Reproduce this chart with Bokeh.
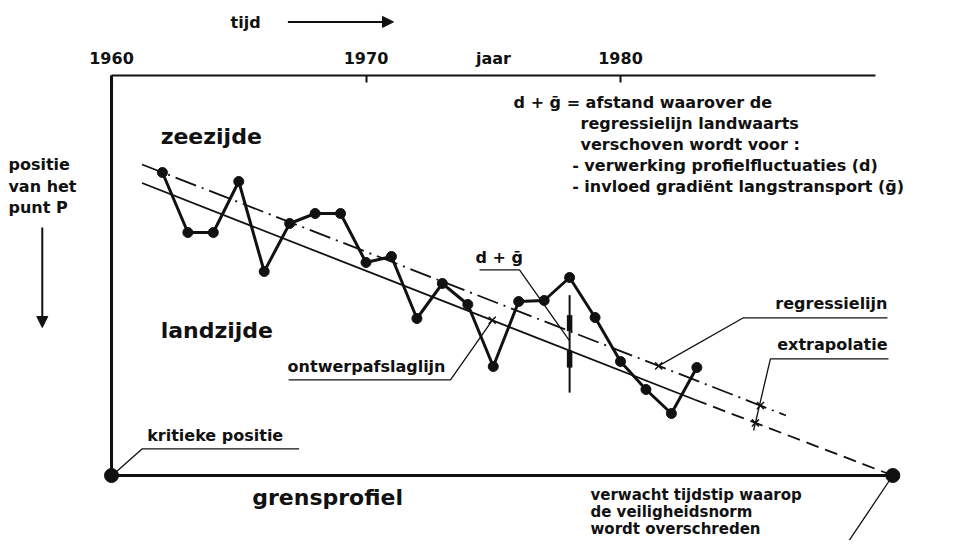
from bokeh.plotting import figure
from bokeh.models import Range1d, LinearAxis, FixedTicker, Arrow, NormalHead
from bokeh.embed import file_html
from bokeh.resources import INLINE
from bokeh.core.properties import value
import numpy as np

# ---- data ----
years = list(range(1962, 1984))
positie = [303, 243, 243, 294, 204, 252, 262, 262, 213, 219, 157,
           192, 171, 109, 174, 175, 198, 158, 114, 86, 62, 108]
tick_years = [1960, 1970, 1980]
axis_bounds = (1960, 1990)
top_pos = 400            # position of the time axis
reg_years = [1961.2, 1986.5]      # regressielijn
reg_pos = [311, 60]
design_years = [1961.2, 1982.9]   # ontwerpafslaglijn
design_pos = [292.5, 76]
extrap_years = [1982.9, 1990.7]   # extrapolatie
extrap_pos = [76, 0]
start_year = 1960
cross_year = 1990.7               # verwacht tijdstip
shift_year = 1978.0               # d + g marker
reg_marks = [1981.5, 1985.5]
design_marks = [1974.96]
extrap_marks = [1985.3]

FONT = value("DejaVu Sans")
INK = "#111111"

p = figure(width=959, height=540, output_backend="svg", toolbar_location=None,
           x_range=Range1d(1955.638, 1993.32), y_range=Range1d(-65, 475),
           min_border_left=0, min_border_right=0, min_border_bottom=0,
           min_border_top=0, x_axis_location=None, y_axis_location=None)
p.grid.visible = False
p.outline_line_color = None

# top time axis, fixed at the top position inside the frame
ax = LinearAxis(fixed_location=top_pos, ticker=FixedTicker(ticks=tick_years),
                bounds=axis_bounds,
                axis_line_width=2, axis_line_color=INK,
                major_tick_in=7, major_tick_out=0, major_tick_line_width=2,
                major_tick_line_color=INK, minor_tick_line_color=None,
                major_label_text_font="DejaVu Sans", major_label_text_font_style="bold",
                major_label_text_font_size="16px", major_label_text_color=INK,
                major_label_standoff=12,
                axis_label="jaar", axis_label_text_font="DejaVu Sans",
                axis_label_text_font_style="bold", axis_label_text_font_size="16px",
                axis_label_text_color=INK, axis_label_standoff=-19)
p.add_layout(ax, "above")

def interp(xs, ys, x):
    return list(np.interp(x, xs, ys))

# frame lines
p.line([start_year, start_year], [0, top_pos], line_width=3, color=INK)
p.line([start_year, cross_year], [0, 0], line_width=3, color=INK)
p.scatter([start_year, cross_year], [0, 0], size=14, color=INK)

# regression / design / extrapolation lines
p.line(reg_years, reg_pos, line_width=1.8, color=INK, line_dash="22 6 2 6")
p.line(design_years, design_pos, line_width=1.8, color=INK)
p.line(extrap_years, extrap_pos, line_width=1.8, color=INK, line_dash="13 7")

# measured positions
p.line(years, positie, line_width=3, color=INK)
p.scatter(years, positie, size=10, color=INK)

# cross markers
mx = reg_marks + design_marks + extrap_marks
my = (interp(reg_years, reg_pos, reg_marks) + interp(design_years, design_pos, design_marks)
      + interp(extrap_years, extrap_pos, extrap_marks))
p.scatter(mx, my, marker="x", size=10, line_width=1.5, color=INK)

# d + g bar
r_at = interp(reg_years, reg_pos, [shift_year])[0]
d_at = interp(design_years, design_pos, [shift_year])[0]
p.line([shift_year, shift_year], [r_at + 36, d_at - 42], line_width=2, color=INK)
p.line([shift_year, shift_year], [r_at + 16, r_at], line_width=5.5, color=INK)
p.line([shift_year, shift_year], [d_at - 17, d_at], line_width=5.5, color=INK)

# leader lines
leaders = [
    ([1967.37, 1961.21, 1960.2], [26.7, 26.7, 4]),
    ([1966.96, 1973.32, design_marks[0]], [95.7, 95.7, my[2]]),
    ([1974.46, 1976.03, shift_year], [205.7, 205.7, (r_at + d_at) / 2]),
    ([1990.49, 1984.83, reg_marks[0]], [157.7, 157.7, my[0]]),
    ([1990.53, 1985.89, 1985.23], [116.7, 116.7, 45]),
    ([cross_year, 1988.64], [0, -78]),
]
for lx, ly in leaders:
    p.line(lx, ly, line_width=1.3, color=INK)

def txt(x, y, t, size="16px", align="left"):
    p.text(x=x, y=y, text=t, text_font=FONT, text_font_style="bold",
           text_font_size=size, text_baseline="middle", text_align=align, text_color=INK)

txt([1961.93], [339], ["zeezijde"], "22px")
txt([1961.93], [145], ["landzijde"], "22px")
txt([1965.53], [-22], ["grensprofiel"], "22px")
txt([1961.40], [40], ["kritieke positie"])
txt([1966.92], [109], ["ontwerpafslaglijn"])
txt([1975.23], [218], ["d + ḡ"], align="center")
txt([1990.49, 1990.49], [172, 131], ["regressielijn", "extrapolatie"], align="right")
txt([1955.95] * 3, [311, 289, 268], ["positie", "van  het", "punt  P"])
txt([1975.80, 1978.43, 1978.43, 1978.10, 1978.10], [373, 352, 331, 310, 289],
    ["d + ḡ = afstand waarover de", "regressielijn landwaarts", "verschoven wordt voor :",
     "- verwerking profielfluctuaties (d)", "- invloed gradiënt langstransport (ḡ)"])
txt([1978.82] * 3, [-19, -36, -53],
    ["verwacht tijdstip waarop", "de veiligheidsnorm", "wordt overschreden"], "15px")
txt([1964.68], [453], ["tijd"])

# left arrow "positie" downwards
p.add_layout(Arrow(end=NormalHead(size=11, fill_color=INK, line_color=INK),
                   x_start=1957.28, y_start=248, x_end=1957.28, y_end=148,
                   line_width=2, line_color=INK))

# "tijd" arrow above the axis
p.add_layout(Arrow(end=NormalHead(size=11, fill_color=INK, line_color=INK),
                   x_start=1966.93, y_start=453.6, x_end=1971.08, y_end=453.6,
                   line_width=2, line_color=INK))

open("out.html", "w").write(file_html(p, INLINE))
